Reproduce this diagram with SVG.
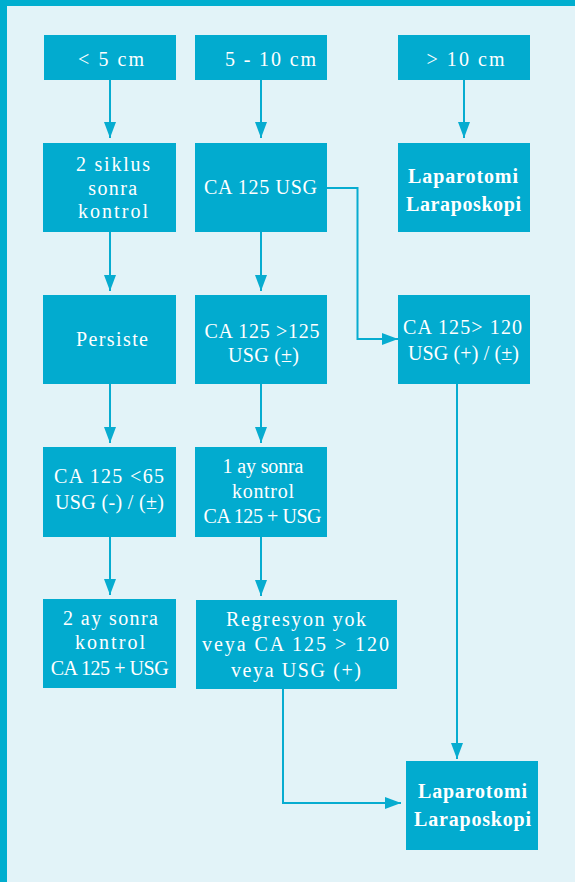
<svg xmlns="http://www.w3.org/2000/svg" width="575" height="882" viewBox="0 0 575 882">
<style>
.box{fill:#02abcf}
.t{font-family:"Liberation Serif","DejaVu Serif",serif;font-size:20px;fill:#ffffff;text-anchor:middle}
.b{font-weight:bold}
.c{fill:none;stroke:#07acd0;stroke-width:2}
</style>
<defs>
<marker id="ah" markerUnits="userSpaceOnUse" markerWidth="16" markerHeight="12" refX="16" refY="6" orient="auto">
<path d="M0,0 L16,6 L0,12 z" fill="#07acd0"/>
</marker>
</defs>
<rect x="0" y="0" width="575" height="882" fill="#e2f3f8"/>
<rect x="0" y="0" width="575" height="6" fill="#00aecf"/>
<rect x="0" y="0" width="7" height="882" fill="#00aecf"/>

<g id="connectors">
<path class="c" d="M110,80 V138" marker-end="url(#ah)"/>
<path class="c" d="M261,80 V138" marker-end="url(#ah)"/>
<path class="c" d="M464,80 V138" marker-end="url(#ah)"/>
<path class="c" d="M110,232 V291" marker-end="url(#ah)"/>
<path class="c" d="M261,232 V291" marker-end="url(#ah)"/>
<path class="c" d="M327,188 H357.5 V339 H398" marker-end="url(#ah)"/>
<path class="c" d="M110,384 V443" marker-end="url(#ah)"/>
<path class="c" d="M261,384 V443" marker-end="url(#ah)"/>
<path class="c" d="M110,537 V595" marker-end="url(#ah)"/>
<path class="c" d="M261,537 V596" marker-end="url(#ah)"/>
<path class="c" d="M457,384 V759" marker-end="url(#ah)"/>
<path class="c" d="M283,689 V803 H401" marker-end="url(#ah)"/>
</g>

<g id="n1"><rect class="box" x="44" y="35" width="132" height="45"/><text class="t" x="111" y="66" textLength="66" lengthAdjust="spacing">&lt; 5 cm</text></g>
<g id="n2"><rect class="box" x="195" y="35" width="132" height="45"/><text class="t" x="270.5" y="66" textLength="91" lengthAdjust="spacing">5 - 10 cm</text></g>
<g id="n3"><rect class="box" x="398" y="35" width="132" height="45"/><text class="t" x="465.5" y="66" textLength="78" lengthAdjust="spacing">&gt; 10 cm</text></g>

<g id="n4"><rect class="box" x="43" y="143" width="133" height="89"/>
<text class="t" x="113" y="171" textLength="74" lengthAdjust="spacing">2 siklus</text>
<text class="t" x="112.75" y="195" textLength="49" lengthAdjust="spacing">sonra</text>
<text class="t" x="113" y="218" textLength="70" lengthAdjust="spacing">kontrol</text></g>
<g id="n5"><rect class="box" x="195" y="143" width="132" height="89"/>
<text class="t" x="260.5" y="194" textLength="113" lengthAdjust="spacing">CA 125 USG</text></g>
<g id="n6"><rect class="box" x="398" y="143" width="132" height="89"/>
<text class="t b" x="463" y="183" textLength="110" lengthAdjust="spacing">Laparotomi</text>
<text class="t b" x="463.5" y="211" textLength="115" lengthAdjust="spacing">Laraposkopi</text></g>

<g id="n7"><rect class="box" x="43" y="295" width="133" height="89"/>
<text class="t" x="112" y="346" textLength="72" lengthAdjust="spacing">Persiste</text></g>
<g id="n8"><rect class="box" x="195" y="295" width="132" height="89"/>
<text class="t" x="262" y="338" textLength="115" lengthAdjust="spacing">CA 125 &gt;125</text>
<text class="t" x="263.5" y="362" textLength="71" lengthAdjust="spacing">USG (±)</text></g>
<g id="n9"><rect class="box" x="398" y="295" width="132" height="89"/>
<text class="t" x="462.5" y="334" textLength="119" lengthAdjust="spacing">CA 125&gt; 120</text>
<text class="t" x="463.5" y="360" textLength="111" lengthAdjust="spacing">USG (+) / (±)</text></g>

<g id="n10"><rect class="box" x="43" y="447" width="133" height="90"/>
<text class="t" x="109" y="483" textLength="110" lengthAdjust="spacing">CA 125 &lt;65</text>
<text class="t" x="109.5" y="509" textLength="109" lengthAdjust="spacing">USG (-) / (±)</text></g>
<g id="n11"><rect class="box" x="195" y="447" width="132" height="90"/>
<text class="t" x="263" y="473" textLength="81" lengthAdjust="spacing">1 ay sonra</text>
<text class="t" x="263" y="498" textLength="62" lengthAdjust="spacing">kontrol</text>
<text class="t" x="262.5" y="523" textLength="118" lengthAdjust="spacing">CA 125 + USG</text></g>

<g id="n12"><rect class="box" x="43" y="599" width="133" height="89"/>
<text class="t" x="110.5" y="625" textLength="95" lengthAdjust="spacing">2 ay sonra</text>
<text class="t" x="110" y="649" textLength="70" lengthAdjust="spacing">kontrol</text>
<text class="t" x="109.7" y="675" textLength="118" lengthAdjust="spacing">CA 125 + USG</text></g>
<g id="n13"><rect class="box" x="196" y="600" width="201" height="89"/>
<text class="t" x="296" y="626" textLength="140" lengthAdjust="spacing">Regresyon yok</text>
<text class="t" x="295.5" y="651" textLength="187" lengthAdjust="spacing">veya CA 125 &gt; 120</text>
<text class="t" x="296" y="677" textLength="130" lengthAdjust="spacing">veya USG (+)</text></g>

<g id="n14"><rect class="box" x="406" y="761" width="132" height="89"/>
<text class="t b" x="472.5" y="798" textLength="109" lengthAdjust="spacing">Laparotomi</text>
<text class="t b" x="472.5" y="826" textLength="117" lengthAdjust="spacing">Laraposkopi</text></g>
</svg>
